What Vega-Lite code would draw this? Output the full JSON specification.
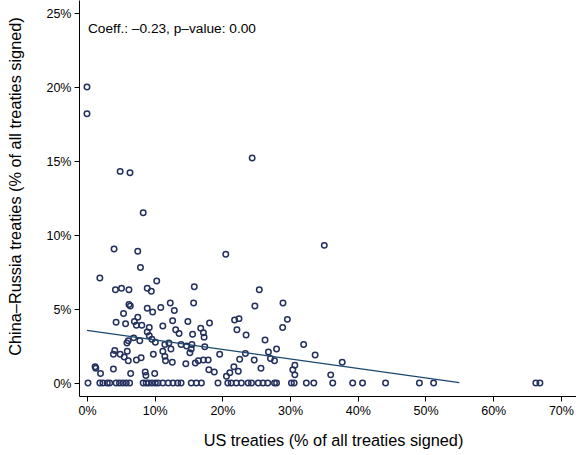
{
  "$schema": "https://vega.github.io/schema/vega-lite/v6.json",
  "width": 497,
  "height": 396,
  "autosize": {"type": "none"},
  "padding": {"left": 79, "top": 0, "right": 0, "bottom": 59},
  "background": "white",
  "config": {
    "view": {"stroke": null},
    "font": "Liberation Sans",
    "axis": {
      "grid": false,
      "domainColor": "#000000",
      "domainWidth": 1,
      "tickColor": "#000000",
      "tickWidth": 1,
      "tickSize": 5,
      "labelColor": "#000000",
      "labelFont": "Liberation Sans",
      "labelFontSize": 12.5,
      "titleFont": "Liberation Sans",
      "titleFontSize": 16.3,
      "titleFontWeight": "normal",
      "titleColor": "#000000"
    }
  },
  "datasets": {
    "points": [
      {"us": 0, "cr": 20.0}, {"us": 0, "cr": 18.2}, {"us": 4.9, "cr": 14.3}, {"us": 6.35, "cr": 14.2},
      {"us": 8.3, "cr": 11.5}, {"us": 24.4, "cr": 15.2}, {"us": 35.05, "cr": 9.3}, {"us": 20.5, "cr": 8.7},
      {"us": 4.0, "cr": 9.05}, {"us": 7.5, "cr": 8.9}, {"us": 7.9, "cr": 7.8}, {"us": 1.9, "cr": 7.1},
      {"us": 10.3, "cr": 6.9}, {"us": 4.2, "cr": 6.3}, {"us": 5.1, "cr": 6.4}, {"us": 6.2, "cr": 6.3},
      {"us": 8.9, "cr": 6.4}, {"us": 9.5, "cr": 6.2}, {"us": 6.2, "cr": 5.3}, {"us": 6.4, "cr": 5.2},
      {"us": 8.9, "cr": 5.05}, {"us": 9.7, "cr": 4.8}, {"us": 5.4, "cr": 4.7}, {"us": 7.5, "cr": 4.45},
      {"us": 4.3, "cr": 4.1}, {"us": 5.7, "cr": 4.0}, {"us": 7.0, "cr": 4.15}, {"us": 7.3, "cr": 3.9},
      {"us": 8.1, "cr": 3.9}, {"us": 9.2, "cr": 3.75}, {"us": 8.9, "cr": 3.45}, {"us": 9.2, "cr": 3.2},
      {"us": 6.9, "cr": 3.05}, {"us": 7.8, "cr": 2.85}, {"us": 6.1, "cr": 2.85}, {"us": 5.9, "cr": 2.7},
      {"us": 9.6, "cr": 2.95}, {"us": 10.1, "cr": 2.75}, {"us": 4.1, "cr": 2.2}, {"us": 3.9, "cr": 1.95},
      {"us": 4.9, "cr": 1.95}, {"us": 5.95, "cr": 2.15}, {"us": 5.5, "cr": 1.75}, {"us": 6.1, "cr": 1.5},
      {"us": 7.3, "cr": 1.55}, {"us": 8.0, "cr": 1.7}, {"us": 9.8, "cr": 1.95}, {"us": 1.2, "cr": 1.1},
      {"us": 1.3, "cr": 1.0}, {"us": 2.0, "cr": 0.65}, {"us": 3.9, "cr": 0.95}, {"us": 6.45, "cr": 0.65},
      {"us": 8.6, "cr": 0.75}, {"us": 8.7, "cr": 0.5}, {"us": 10.0, "cr": 0.65}, {"us": 15.85, "cr": 6.5},
      {"us": 15.75, "cr": 5.4}, {"us": 12.3, "cr": 5.4}, {"us": 10.9, "cr": 5.1}, {"us": 12.9, "cr": 4.9},
      {"us": 11.2, "cr": 3.85}, {"us": 12.65, "cr": 4.2}, {"us": 14.9, "cr": 4.15}, {"us": 16.8, "cr": 3.7},
      {"us": 18.1, "cr": 4.05}, {"us": 13.1, "cr": 3.6}, {"us": 13.6, "cr": 3.35}, {"us": 15.6, "cr": 3.3},
      {"us": 17.2, "cr": 3.4}, {"us": 17.3, "cr": 3.1}, {"us": 17.4, "cr": 2.45}, {"us": 11.5, "cr": 2.6},
      {"us": 12.1, "cr": 2.7}, {"us": 13.9, "cr": 2.6}, {"us": 14.7, "cr": 2.5}, {"us": 15.5, "cr": 2.6},
      {"us": 15.4, "cr": 2.3}, {"us": 11.2, "cr": 2.15}, {"us": 12.4, "cr": 2.3}, {"us": 15.2, "cr": 2.05},
      {"us": 19.6, "cr": 1.95}, {"us": 11.5, "cr": 1.8}, {"us": 11.6, "cr": 1.5}, {"us": 12.6, "cr": 1.4},
      {"us": 14.6, "cr": 1.3}, {"us": 16.0, "cr": 1.35}, {"us": 16.45, "cr": 1.5}, {"us": 17.2, "cr": 1.55},
      {"us": 17.9, "cr": 1.55}, {"us": 18.0, "cr": 0.9}, {"us": 18.8, "cr": 0.75}, {"us": 20.6, "cr": 0.45},
      {"us": 25.45, "cr": 6.3}, {"us": 24.8, "cr": 5.2}, {"us": 28.95, "cr": 5.4}, {"us": 21.8, "cr": 4.25},
      {"us": 22.45, "cr": 4.35}, {"us": 29.6, "cr": 4.3}, {"us": 22.15, "cr": 3.6}, {"us": 23.5, "cr": 3.25},
      {"us": 28.9, "cr": 3.75}, {"us": 26.3, "cr": 2.9}, {"us": 28.0, "cr": 2.3}, {"us": 26.8, "cr": 2.1},
      {"us": 32.0, "cr": 2.6}, {"us": 23.4, "cr": 2.0}, {"us": 22.55, "cr": 1.6}, {"us": 24.7, "cr": 1.55},
      {"us": 27.1, "cr": 1.65}, {"us": 27.7, "cr": 1.5}, {"us": 21.7, "cr": 1.1}, {"us": 21.1, "cr": 0.7},
      {"us": 22.35, "cr": 0.8}, {"us": 25.7, "cr": 1.0}, {"us": 30.7, "cr": 1.2}, {"us": 30.4, "cr": 0.9},
      {"us": 30.7, "cr": 0.55}, {"us": 33.7, "cr": 1.9}, {"us": 37.7, "cr": 1.4}, {"us": 36.0, "cr": 0.55},
      {"us": 0.15, "cr": 0}, {"us": 1.9, "cr": 0}, {"us": 2.35, "cr": 0}, {"us": 3.0, "cr": 0},
      {"us": 3.35, "cr": 0}, {"us": 4.3, "cr": 0}, {"us": 4.8, "cr": 0}, {"us": 5.3, "cr": 0},
      {"us": 5.8, "cr": 0}, {"us": 6.3, "cr": 0}, {"us": 8.3, "cr": 0}, {"us": 8.75, "cr": 0},
      {"us": 9.1, "cr": 0}, {"us": 9.6, "cr": 0}, {"us": 10.1, "cr": 0}, {"us": 10.5, "cr": 0},
      {"us": 11.2, "cr": 0}, {"us": 12.0, "cr": 0}, {"us": 12.7, "cr": 0}, {"us": 13.4, "cr": 0},
      {"us": 13.9, "cr": 0}, {"us": 15.4, "cr": 0}, {"us": 16.15, "cr": 0}, {"us": 16.9, "cr": 0},
      {"us": 19.35, "cr": 0}, {"us": 20.8, "cr": 0}, {"us": 21.3, "cr": 0}, {"us": 22.05, "cr": 0},
      {"us": 22.8, "cr": 0}, {"us": 23.8, "cr": 0}, {"us": 24.3, "cr": 0}, {"us": 25.3, "cr": 0},
      {"us": 26.0, "cr": 0}, {"us": 26.7, "cr": 0}, {"us": 27.7, "cr": 0}, {"us": 28.0, "cr": 0},
      {"us": 30.2, "cr": 0}, {"us": 30.6, "cr": 0}, {"us": 32.4, "cr": 0}, {"us": 33.5, "cr": 0},
      {"us": 36.3, "cr": 0}, {"us": 39.25, "cr": 0}, {"us": 40.7, "cr": 0}, {"us": 44.1, "cr": 0},
      {"us": 49.1, "cr": 0}, {"us": 51.2, "cr": 0}, {"us": 66.3, "cr": 0}, {"us": 66.9, "cr": 0}
    ],
    "fit": [{"us": 0, "cr": 3.55}, {"us": 55, "cr": 0.02}],
    "note": [{"us": 0, "cr": 23.95, "label": "Coeff.: –0.23, p–value: 0.00"}]
  },
  "layer": [
    {
      "data": {"name": "points"},
      "mark": {"type": "point", "shape": "circle", "filled": false, "size": 30, "strokeWidth": 1.5, "color": "#24305e", "opacity": 1},
      "encoding": {
        "x": {
          "field": "us", "type": "quantitative",
          "scale": {"domain": [-1.18, 72.23], "nice": false, "zero": false},
          "axis": {"values": [0, 10, 20, 30, 40, 50, 60, 70], "labelExpr": "datum.value + '%'", "title": "US treaties (% of all treaties signed)", "titleX": 254, "titleY": 44, "titleBaseline": "middle", "labelPadding": 3}
        },
        "y": {
          "field": "cr", "type": "quantitative",
          "scale": {"domain": [-0.878, 25.88], "nice": false, "zero": false},
          "axis": {"values": [0, 5, 10, 15, 20, 25], "labelExpr": "datum.value + '%'", "title": "China–Russia treaties (% of all treaties signed)", "titleX": -64, "titleY": 186, "titleBaseline": "middle", "labelPadding": 3}
        }
      }
    },
    {
      "data": {"name": "fit"},
      "mark": {"type": "line", "color": "#1a476f", "strokeWidth": 1.2},
      "encoding": {
        "x": {"field": "us", "type": "quantitative"},
        "y": {"field": "cr", "type": "quantitative"}
      }
    },
    {
      "data": {"name": "note"},
      "mark": {"type": "text", "align": "left", "baseline": "middle", "fontSize": 13.7, "font": "Liberation Sans", "color": "#000000", "dx": 1},
      "encoding": {
        "x": {"field": "us", "type": "quantitative"},
        "y": {"field": "cr", "type": "quantitative"},
        "text": {"field": "label"}
      }
    }
  ]
}
